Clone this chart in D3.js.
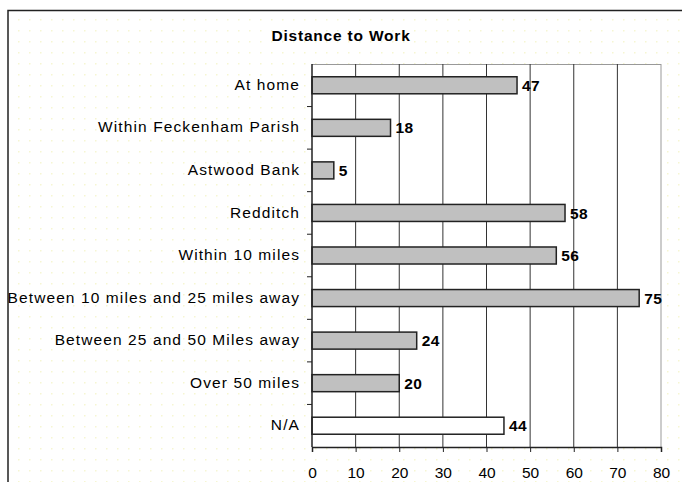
<!DOCTYPE html>
<style>
    body, html {
        margin: 0;
        padding: 0;
        background: #fff;
        overflow: hidden;
    }
    text { font-family: "Liberation Sans", Arial, sans-serif; }
</style>
<svg width="682" height="482"></svg>
<script src="https://d3js.org/d3.v7.min.js"></script>
<script>
    var categories = ["At home", "Within Feckenham Parish", "Astwood Bank", "Redditch",
        "Within 10 miles", "Between 10 miles and 25 miles away", "Between 25 and 50 Miles away",
        "Over 50 miles", "N/A"];
    var values = [47, 18, 5, 58, 56, 75, 24, 20, 44];
    var xTicks = [0, 10, 20, 30, 40, 50, 60, 70, 80];

    var svg = d3.select("svg");
    var plotLeft = 312, plotRight = 661, plotTop = 64, plotBottom = 447;
    var fs = 15.5;

    // faint dotted background
    var pat = svg.append("defs").append("pattern")
        .attr("id", "dots").attr("width", 11).attr("height", 11)
        .attr("patternUnits", "userSpaceOnUse");
    pat.append("rect").attr("x", 7).attr("y", 8).attr("width", 1.5).attr("height", 1.5).attr("fill", "#f6f6d2");
    svg.append("rect").attr("x", 8).attr("y", 11).attr("width", 680).attr("height", 480).attr("fill", "url(#dots)");

    // outer frame
    svg.append("path").attr("d", "M8,482V10.5H682").attr("fill", "none")
        .attr("stroke", "#222").attr("stroke-width", 1.5);

    svg.append("text").attr("x", 341).attr("y", 41).attr("text-anchor", "middle")
        .attr("font-size", fs).attr("font-weight", "bold").attr("letter-spacing", 0.8)
        .text("Distance to Work");

    var x = d3.scaleLinear().domain([0, 80]).range([plotLeft, plotRight]);
    var y = d3.scaleBand().domain(categories).range([plotTop, plotBottom]).paddingInner(0.6).paddingOuter(0.3);
    var band = d3.scaleBand().domain(categories).range([plotTop, plotBottom]);

    // plot area
    svg.append("rect").attr("x", plotLeft).attr("y", plotTop)
        .attr("width", plotRight - plotLeft).attr("height", plotBottom - plotTop)
        .attr("fill", "#fff");
    svg.append("line").attr("x1", plotLeft).attr("x2", plotRight)
        .attr("y1", plotTop + 0.5).attr("y2", plotTop + 0.5)
        .attr("stroke", "#999");

    svg.append("g").selectAll("line").data(xTicks.slice(1)).enter().append("line")
        .attr("x1", function (d) { return x(d); }).attr("x2", function (d) { return x(d); })
        .attr("y1", plotTop).attr("y2", plotBottom)
        .attr("stroke", function (d) { return d === 80 ? "#999" : "#333"; });

    // bars
    svg.append("g").selectAll("rect").data(values).enter().append("rect")
        .attr("x", x(0))
        .attr("y", function (d, i) { return y(categories[i]); })
        .attr("width", function (d) { return x(d) - x(0); })
        .attr("height", y.bandwidth())
        .attr("fill", function (d, i) { return categories[i] === "N/A" ? "#fff" : "#c0c0c0"; })
        .attr("stroke", "#222").attr("stroke-width", 1.5);

    svg.append("g").selectAll("text").data(values).enter().append("text")
        .attr("x", function (d) { return x(d) + 5; })
        .attr("y", function (d, i) { return y(categories[i]) + y.bandwidth() / 2; })
        .attr("dy", "0.36em").attr("font-size", fs).attr("font-weight", "bold")
        .attr("letter-spacing", 0.4)
        .text(function (d) { return d; });

    // y axis
    var yAxis = svg.append("g");
    yAxis.append("line").attr("x1", plotLeft).attr("x2", plotLeft).attr("y1", plotTop).attr("y2", plotBottom)
        .attr("stroke", "#222").attr("stroke-width", 1.5);
    yAxis.selectAll("line.t").data(categories.slice(1)).enter().append("line")
        .attr("x1", plotLeft - 5).attr("x2", plotLeft)
        .attr("y1", function (d) { return band(d); }).attr("y2", function (d) { return band(d); })
        .attr("stroke", "#222");
    yAxis.selectAll("text").data(categories).enter().append("text")
        .attr("x", plotLeft - 12)
        .attr("y", function (d) { return band(d) + band.bandwidth() / 2; })
        .attr("dy", "0.3em").attr("text-anchor", "end").attr("font-size", fs)
        .attr("letter-spacing", 1.1)
        .text(function (d) { return d; });

    // x axis
    var xAxis = svg.append("g").attr("transform", "translate(0," + plotBottom + ")")
        .call(d3.axisBottom(x).tickValues(xTicks).tickSize(5).tickPadding(15));
    xAxis.select(".domain").attr("stroke", "#222").attr("stroke-width", 1.5);
    xAxis.selectAll(".tick line").attr("stroke", "#222");
    xAxis.selectAll("text").attr("font-size", fs).attr("fill", "#000")
        .attr("font-family", "Liberation Sans, Arial, sans-serif");
</script>
